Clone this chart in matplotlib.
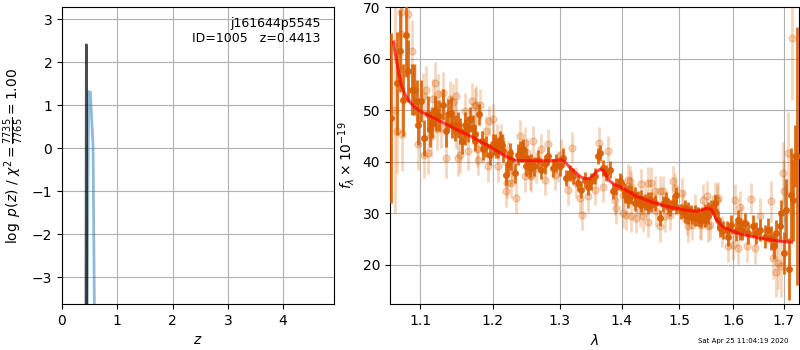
import numpy as np
import matplotlib
matplotlib.use('Agg')
import matplotlib.pyplot as plt
from matplotlib.ticker import FixedLocator, FixedFormatter, NullLocator

# redshift fit: log p(z)
z_fine = [0.430, 0.4413, 0.452]
logp_fine = [-8.0, 2.40, -8.0]
z_coarse = [0.440, 0.482, 0.513, 0.562, 0.600]
logp_coarse = [-6.0, 1.31, 1.30, 0.03, -6.0]

# spectrum, first set
dark_wave = [1.0626, 1.0703, 1.0740, 1.0778, 1.0810, 1.0836, 1.0887, 1.0913, 1.0957, 1.0974,
             1.1017, 1.1053, 1.1109, 1.1127, 1.1154, 1.1198, 1.1216, 1.1257, 1.1305, 1.1340,
             1.1378, 1.1410, 1.1424, 1.1465, 1.1514, 1.1534, 1.1561, 1.1603, 1.1606, 1.1650,
             1.1678, 1.1720, 1.1742, 1.1747, 1.1800, 1.1842, 1.1860, 1.1907, 1.1957, 1.2004,
             1.2031, 1.2051, 1.2079, 1.2101, 1.2128, 1.2148, 1.2190, 1.2221, 1.2250, 1.2270,
             1.2323, 1.2374, 1.2394, 1.2424, 1.2443, 1.2488, 1.2492, 1.2524, 1.2542, 1.2559,
             1.2610, 1.2668, 1.2718, 1.2770, 1.2820, 1.2897, 1.2948, 1.3000, 1.3051, 1.3103,
             1.3157, 1.3209, 1.3288, 1.3341, 1.3395, 1.3449, 1.3502, 1.3557, 1.3615, 1.3638,
             1.3692, 1.3746, 1.3802, 1.3856, 1.3911, 1.3968, 1.3999, 1.4051, 1.4054, 1.4107,
             1.4110, 1.4163, 1.4166, 1.4220, 1.4223, 1.4278, 1.4334, 1.4337, 1.4393, 1.4449,
             1.4451, 1.4507, 1.4509, 1.4566, 1.4653, 1.4712, 1.4770, 1.4799, 1.4834, 1.4890,
             1.4946, 1.4952, 1.5040, 1.5097, 1.5102, 1.5157, 1.5163, 1.5217, 1.5224, 1.5279,
             1.5285, 1.5339, 1.5346, 1.5400, 1.5408, 1.5463, 1.5469, 1.5524, 1.5530, 1.5590,
             1.5649, 1.5655, 1.5711, 1.5749, 1.5809, 1.5876, 1.5900, 1.5963, 1.6059, 1.6098,
             1.6124, 1.6163, 1.6228, 1.6292, 1.6389, 1.6455, 1.6520, 1.6619, 1.6686, 1.6753,
             1.6806, 1.6853, 1.6920, 1.6954, 1.7008, 1.7055, 1.7110, 1.7140, 1.7200, 1.7241,
             1.7270]
dark_flux = [48.5, 55.2, 61.5, 52.0, 64.5, 57.6, 54.0, 54.0, 51.8, 47.2,
             51.8, 44.6, 49.2, 46.3, 47.6, 49.8, 48.9, 48.9, 51.1, 45.9,
             49.2, 49.5, 47.2, 46.6, 47.2, 45.9, 44.0, 47.2, 45.7, 46.3,
             48.2, 46.6, 45.3, 44.0, 49.2, 44.0, 42.4, 43.0, 41.4, 43.4,
             43.3, 42.7, 42.7, 44.0, 43.3, 42.0, 37.5, 39.5, 41.7, 40.4,
             37.8, 41.4, 42.0, 42.0, 42.4, 40.8, 39.1, 39.5, 38.8, 39.8,
             39.1, 40.4, 38.5, 39.5, 41.1, 38.8, 39.8, 39.1, 40.8, 36.9,
             37.8, 37.2, 35.9, 34.6, 36.5, 35.2, 36.2, 37.2, 41.1, 41.7,
             38.8, 37.8, 38.5, 34.3, 35.2, 36.2, 35.9, 33.6, 34.3, 32.6,
             33.9, 33.9, 33.3, 32.0, 33.6, 32.8, 31.7, 33.0, 32.2, 31.3,
             32.6, 32.6, 31.7, 32.0, 29.1, 31.8, 32.6, 31.3, 31.0, 32.1,
             33.6, 31.3, 30.4, 31.0, 29.7, 29.4, 30.7, 30.1, 29.4, 29.1,
             30.1, 29.7, 29.1, 28.8, 29.7, 30.4, 28.8, 29.4, 30.7, 31.1,
             32.0, 30.4, 28.8, 27.1, 26.8, 26.8, 25.5, 27.8, 26.5, 28.8,
             26.8, 26.8, 28.1, 26.2, 27.5, 26.2, 26.8, 25.5, 26.8, 25.2,
             23.6, 26.2, 27.5, 30.1, 22.3, 30.7, 19.3, 33.6, 32.6, 41.1,
             41.1]
dark_err = [16.5, 10.0, 8.0, 7.0, 8.0, 6.0, 5.0, 5.0, 4.0, 4.0,
            4.0, 3.5, 3.5, 3.5, 3.0, 3.0, 3.0, 3.0, 3.0, 3.0,
            3.0, 3.0, 2.5, 2.5, 2.5, 2.5, 2.5, 2.5, 2.5, 2.5,
            2.5, 2.5, 2.0, 2.0, 2.0, 2.0, 2.0, 2.0, 2.0, 2.0,
            2.0, 2.0, 2.0, 2.0, 2.0, 2.0, 2.0, 2.0, 2.0, 2.0,
            2.0, 2.0, 2.0, 2.0, 2.0, 1.8, 1.8, 1.8, 1.8, 1.8,
            1.8, 1.8, 1.8, 1.8, 1.8, 1.8, 1.8, 1.8, 1.8, 1.6,
            1.6, 1.6, 1.6, 1.6, 1.6, 1.6, 1.6, 1.6, 1.6, 1.6,
            1.6, 1.6, 1.6, 1.6, 1.6, 1.6, 1.5, 1.5, 1.5, 1.5,
            1.5, 1.5, 1.5, 1.5, 1.5, 1.5, 1.5, 1.5, 1.5, 1.5,
            1.5, 1.5, 1.5, 1.5, 1.5, 1.5, 1.5, 1.5, 1.5, 1.5,
            1.5, 1.5, 1.5, 1.5, 1.5, 1.5, 1.5, 1.5, 1.5, 1.5,
            1.5, 1.5, 1.5, 1.5, 1.5, 1.5, 1.5, 1.5, 1.5, 1.5,
            1.5, 1.5, 1.6, 1.6, 1.7, 1.7, 1.8, 1.8, 1.9, 1.9,
            2.0, 2.0, 2.0, 2.1, 2.1, 2.2, 2.2, 2.3, 2.3, 2.4,
            2.5, 2.6, 2.8, 2.5, 4.0, 6.0, 6.0, 9.0, 8.0, 6.0,
            25.0]

# spectrum, second set
light_wave = [1.0676, 1.0703, 1.0746, 1.0755, 1.0767, 1.0843, 1.0896, 1.0930, 1.0974, 1.1040,
              1.1053, 1.1083, 1.1106, 1.1150, 1.1176, 1.1194, 1.1220, 1.1240, 1.1284, 1.1305,
              1.1350, 1.1398, 1.1442, 1.1465, 1.1486, 1.1489, 1.1512, 1.1534, 1.1603, 1.1650,
              1.1706, 1.1747, 1.1764, 1.1772, 1.1791, 1.1813, 1.1865, 1.1907, 1.1930, 1.1952,
              1.2004, 1.2055, 1.2079, 1.2125, 1.2153, 1.2197, 1.2203, 1.2221, 1.2270, 1.2275,
              1.2344, 1.2403, 1.2467, 1.2473, 1.2500, 1.2542, 1.2559, 1.2592, 1.2634, 1.2718,
              1.2770, 1.2820, 1.2925, 1.2975, 1.3025, 1.3130, 1.3187, 1.3261, 1.3315, 1.3352,
              1.3449, 1.3557, 1.3621, 1.3692, 1.3774, 1.3885, 1.3911, 1.4023, 1.4026, 1.4082,
              1.4110, 1.4135, 1.4163, 1.4166, 1.4248, 1.4306, 1.4337, 1.4365, 1.4392, 1.4449,
              1.4451, 1.4507, 1.4567, 1.4594, 1.4653, 1.4655, 1.4713, 1.4741, 1.4829, 1.4887,
              1.4917, 1.5043, 1.5066, 1.5133, 1.5157, 1.5224, 1.5279, 1.5376, 1.5400, 1.5438,
              1.5500, 1.5524, 1.5561, 1.5649, 1.5686, 1.5711, 1.5781, 1.5900, 1.5994, 1.6036,
              1.6092, 1.6130, 1.6156, 1.6261, 1.6356, 1.6422, 1.6520, 1.6753, 1.6786, 1.6853,
              1.6887, 1.6954, 1.6988, 1.7008, 1.7090, 1.7171]
light_flux = [50.0, 45.9, 69.0, 64.7, 45.3, 68.6, 61.5, 54.0, 43.4, 52.7,
              41.4, 54.0, 41.7, 45.0, 52.1, 55.3, 46.3, 53.1, 46.6, 53.4,
              40.8, 52.1, 51.5, 48.2, 52.7, 45.9, 40.8, 41.4, 49.8, 42.0,
              51.8, 50.8, 51.1, 42.4, 40.4, 51.1, 42.7, 45.9, 39.1, 47.9,
              48.2, 44.3, 39.1, 44.3, 42.4, 34.3, 35.9, 41.1, 35.9, 38.5,
              33.0, 45.0, 43.7, 37.2, 41.7, 37.5, 37.2, 44.0, 38.8, 42.4,
              36.5, 43.4, 37.5, 39.1, 41.4, 34.6, 42.7, 35.9, 33.0, 29.7,
              33.3, 34.6, 43.7, 35.2, 42.0, 32.6, 31.0, 33.6, 30.1, 29.7,
              36.5, 36.2, 29.4, 35.2, 29.1, 30.4, 35.6, 29.4, 32.3, 35.9,
              28.4, 35.9, 34.3, 30.4, 27.5, 34.3, 34.3, 29.4, 29.7, 36.2,
              34.9, 33.9, 31.3, 28.8, 27.5, 27.8, 30.7, 28.1, 27.8, 32.6,
              33.3, 27.5, 27.8, 33.0, 32.6, 33.0, 26.5, 23.6, 23.9, 32.6,
              23.2, 31.3, 28.4, 23.6, 32.8, 23.2, 29.4, 32.3, 21.3, 18.7,
              20.3, 19.7, 37.8, 34.3, 41.7, 63.9]
light_err = [20.0, 8.0, 8.0, 7.0, 7.0, 7.0, 6.0, 5.0, 5.0, 4.5,
             4.5, 4.5, 4.0, 4.0, 4.0, 4.0, 4.0, 4.0, 4.0, 4.0,
             4.0, 3.5, 3.5, 3.5, 3.5, 3.5, 3.5, 3.5, 3.5, 3.5,
             3.5, 3.5, 3.5, 3.5, 3.0, 3.0, 3.0, 3.0, 3.0, 3.0,
             3.0, 3.0, 3.0, 3.0, 3.0, 3.0, 3.0, 3.0, 3.0, 3.0,
             3.0, 3.0, 3.0, 3.0, 3.0, 3.0, 3.0, 3.0, 3.0, 3.0,
             3.0, 3.0, 3.0, 3.0, 3.0, 3.0, 3.0, 3.0, 3.0, 3.0,
             3.0, 3.0, 3.0, 3.0, 3.0, 3.0, 3.0, 3.0, 3.0, 3.0,
             3.0, 3.0, 3.0, 3.0, 3.0, 3.0, 3.0, 3.0, 3.0, 3.0,
             3.0, 3.0, 3.0, 3.0, 3.0, 3.0, 3.0, 3.0, 3.0, 3.0,
             3.0, 3.0, 3.0, 3.0, 3.0, 3.0, 3.0, 3.0, 3.0, 3.0,
             3.0, 3.0, 3.0, 3.0, 3.0, 3.0, 3.0, 3.0, 3.0, 3.0,
             3.0, 3.0, 3.0, 3.0, 3.0, 3.0, 3.5, 4.0, 4.0, 5.0,
             5.0, 6.0, 6.0, 6.0, 8.0, 12.0]

# best-fit model
model_wave = [1.0655, 1.0670, 1.0694, 1.0725, 1.0759, 1.0810, 1.0869, 1.0934, 1.1000, 1.1220,
              1.1442, 1.1678, 1.1912, 1.2105, 1.2226, 1.2323, 1.2547, 1.2851, 1.3031, 1.3082,
              1.3150, 1.3214, 1.3280, 1.3340, 1.3420, 1.3476, 1.3530, 1.3580, 1.3640, 1.3691,
              1.3740, 1.3800, 1.3880, 1.3973, 1.4251, 1.4538, 1.4834, 1.5133, 1.5315, 1.5438,
              1.5512, 1.5593, 1.5686, 1.5812, 1.5938, 1.6130, 1.6324, 1.6520, 1.6720, 1.6920,
              1.7160]
model_flux = [63.2, 61.5, 59.6, 57.0, 54.7, 52.8, 51.5, 50.5, 49.8, 48.2,
              46.6, 45.0, 43.3, 41.7, 40.8, 40.3, 40.2, 40.2, 40.4, 40.0,
              39.0, 38.3, 37.6, 37.0, 36.7, 36.8, 37.3, 38.0, 38.5, 38.4,
              37.5, 36.3, 35.6, 35.2, 33.3, 32.1, 31.2, 30.6, 30.4, 30.7,
              31.0, 30.7, 28.8, 27.3, 26.8, 26.0, 25.6, 25.2, 24.9, 24.6,
              24.4]

wave_ticks = [1.1, 1.2, 1.3, 1.4, 1.5, 1.6, 1.7]

fig = plt.figure(figsize=(8, 3.5), dpi=100)
ax1 = fig.add_axes([0.0775, 0.131, 0.34, 0.849])
ax2 = fig.add_axes([0.4875, 0.131, 0.511, 0.849])

ax1.plot(z_coarse, logp_coarse, color='tab:blue', alpha=0.5, lw=2)
ax1.plot(z_fine, logp_fine, color='k', alpha=0.7, lw=2)
ax1.set_xlim(0, 4.92)
ax1.set_ylim(-3.63, 3.28)
ax1.set_xticks([0, 1, 2, 3, 4])
ax1.set_yticks([-3, -2, -1, 0, 1, 2, 3])
ax1.grid()
ax1.set_xlabel(r'$z$')
ax1.set_ylabel(r'$\log\ p(z)$ / $\chi^2=\frac{7735}{7765}=1.00$')
ax1.text(0.95, 0.965, 'j161644p5545\nID=1005   z=0.4413', transform=ax1.transAxes,
         ha='right', va='top', fontsize=9)

ax2.errorbar(light_wave, light_flux, yerr=light_err, marker='o', linestyle='none',
             color='#d95f02', alpha=0.25, ms=5, elinewidth=2, zorder=2)
ax2.errorbar(dark_wave, dark_flux, yerr=dark_err, marker='o', linestyle='none',
             color='#d95f02', alpha=0.9, ms=4, elinewidth=2, zorder=3)
ax2.plot(model_wave, model_flux, color='r', alpha=0.7, lw=2.2, zorder=4)

ax2.set_xscale('log')
ax2.set_xlim(1.061, 1.731)
ax2.set_ylim(12.4, 70)
ax2.xaxis.set_major_locator(FixedLocator(wave_ticks))
ax2.xaxis.set_major_formatter(FixedFormatter([str(w) for w in wave_ticks]))
ax2.xaxis.set_minor_locator(NullLocator())
ax2.grid()
ax2.set_xlabel(r'$\lambda$')
ax2.set_ylabel(r'$f_\lambda\times10^{-19}$')

fig.text(0.985, 0.018, 'Sat Apr 25 11:04:19 2020', ha='right', va='bottom', fontsize=5)

fig.savefig('out.png', dpi=100)
